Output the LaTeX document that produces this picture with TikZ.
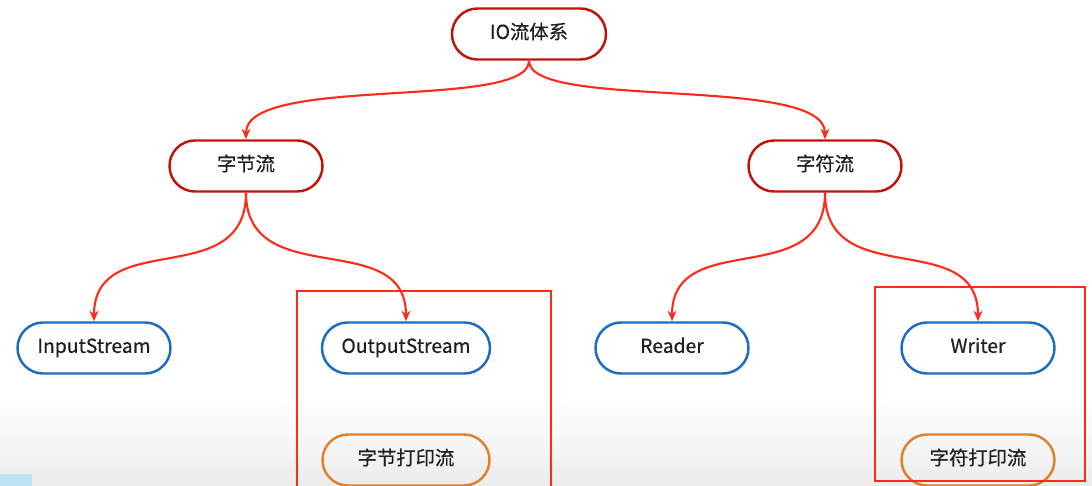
\documentclass[tikz,border=0pt]{standalone}
\usepackage{fontspec}
\setmainfont{Noto Sans CJK SC}
\newfontfamily\lab[BoldFont={Noto Sans CJK SC}, BoldFeatures={FakeBold=0.6}]{Noto Sans CJK SC}
\usetikzlibrary{arrows.meta,shapes.misc}
\definecolor{topred}{HTML}{C0140A}
\definecolor{linkred}{HTML}{FF2A1A}
\definecolor{boxblue}{HTML}{1C6CC0}
\definecolor{boxorange}{HTML}{E0802A}
\definecolor{fadegray}{HTML}{ECECEC}
\definecolor{patchblue}{HTML}{BFE3F0}
\newlength{\pxu}\setlength{\pxu}{0.02cm}
\tikzset{
  pill/.style={rounded rectangle, draw, line width=1.4pt, minimum width=153\pxu, minimum height=51\pxu, inner sep=0pt, text height=8.2pt, text depth=2.6pt, font=\lab\bfseries\fontsize{11pt}{13pt}\selectfont, text=black!88},
  toppill/.style={pill, draw=topred},
  bluepill/.style={pill, draw=boxblue},
  orangepill/.style={pill, draw=boxorange},
  link/.style={draw=linkred, line width=1.2pt, -{Stealth[length=6pt,width=5pt]}},
  frame/.style={draw=linkred, line width=1.2pt},
}
\begin{document}
\begin{tikzpicture}[x=0.02cm,y=-0.02cm]
\useasboundingbox (0,0) rectangle (1092,486);
\shade[top color=white, bottom color=fadegray] (0,400) rectangle (1092,486);
\fill[patchblue] (0,474) rectangle (32,486);

\node[toppill, minimum width=154\pxu] (io) at (529,34) {IO流体系};
\node[toppill] (byte) at (246,166) {字节流};
\node[toppill] (char) at (825,166) {字符流};

\node[bluepill] (in) at (94,348) {InputStream};
\node[bluepill, minimum width=168\pxu] (out) at (406,348) {OutputStream};
\node[bluepill] (rd) at (672,348) {Reader};
\node[bluepill] (wr) at (978,348) {Writer};

\node[orangepill, minimum width=167\pxu] (bp) at (406,460) {字节打印流};
\node[orangepill] (cp) at (978,460) {字符打印流};

\draw[link] (io.south) .. controls +(0,50) and +(0,-65) .. (byte.north);
\draw[link] (io.south) .. controls +(0,50) and +(0,-65) .. (char.north);
\draw[link] (byte.south) .. controls +(0,100) and +(0,-95) .. (in.north);
\draw[link] (byte.south) .. controls +(0,100) and +(0,-95) .. (out.north);
\draw[link] (char.south) .. controls +(0,100) and +(0,-95) .. (rd.north);
\draw[link] (char.south) .. controls +(0,100) and +(0,-95) .. (wr.north);

\coordinate (fa) at (297,487);
\coordinate (fb) at (297,291);
\coordinate (fc) at (551,291);
\coordinate (fd) at (551,487);
\draw[frame] (fa) -- (fb) -- (fc) -- (fd);
\coordinate (ga) at (875,287);
\coordinate (gb) at (1085,481);
\draw[frame] (ga) rectangle (gb);
\end{tikzpicture}
\end{document}
